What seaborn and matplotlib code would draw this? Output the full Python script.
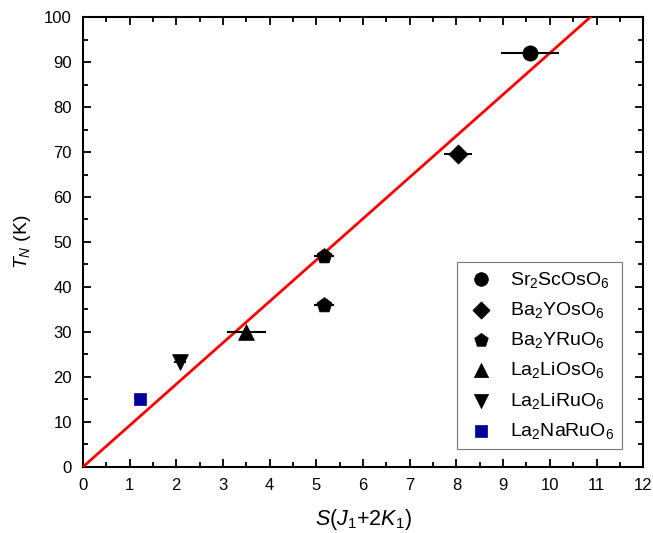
import matplotlib
matplotlib.use("Agg")
import matplotlib.pyplot as plt
import seaborn as sns
import pandas as pd
from matplotlib.ticker import MultipleLocator

sns.set_style("ticks")
plt.rcParams['font.family'] = ['Liberation Sans', 'DejaVu Sans']
plt.rcParams['mathtext.fontset'] = 'custom'
plt.rcParams['mathtext.rm'] = 'Liberation Sans'
plt.rcParams['mathtext.it'] = 'Liberation Sans:italic'
for k in ["text.color", "axes.labelcolor", "xtick.color", "ytick.color", "axes.edgecolor"]:
    plt.rcParams[k] = "black"

labels = [r"Sr$_2$ScOsO$_6$", r"Ba$_2$YOsO$_6$", r"Ba$_2$YRuO$_6$",
          r"La$_2$LiOsO$_6$", r"La$_2$LiRuO$_6$", r"La$_2$NaRuO$_6$"]
markers = ["o", "D", "p", "^", "v", "s"]
colors = ["black", "black", "black", "black", "black", "#000099"]
sizes = [120, 95, 130, 130, 130, 85]

x_vals = [[9.58], [8.04], [5.16, 5.16], [3.5], [2.08], [1.22]]
y_vals = [[92.0], [69.6], [46.8, 36.0], [30.0], [23.4], [15.0]]
x_err = [[0.62], [0.3], [0.22, 0.22], [0.42], [0.12], [0.0]]

fit_slope = 9.2
fit_x = [0.0, 12.0]

fig = plt.figure(figsize=(6.53, 5.33), dpi=100)
ax = fig.add_axes([0.127, 0.124, 0.858, 0.844])

fit_df = pd.DataFrame({"x": fit_x, "y": [fit_slope * v for v in fit_x]})
sns.lineplot(data=fit_df, x="x", y="y", color="#ff0000", lw=2, ax=ax, zorder=3)

for lab, m, c, s, xs, ys, xe in zip(labels, markers, colors, sizes, x_vals, y_vals, x_err):
    df = pd.DataFrame({"x": xs, "y": ys})
    if max(xe) > 0:
        ax.errorbar(xs, ys, xerr=xe, fmt="none", ecolor="black", elinewidth=1.5, capsize=0, zorder=4)
    sns.scatterplot(data=df, x="x", y="y", marker=m, color=c, s=s, edgecolor=c,
                    linewidth=0.5, label=lab, ax=ax, zorder=5)

ax.set_xlim(0, 12)
ax.set_ylim(0, 100)
ax.xaxis.set_major_locator(MultipleLocator(1))
ax.xaxis.set_minor_locator(MultipleLocator(0.5))
ax.yaxis.set_major_locator(MultipleLocator(10))
ax.yaxis.set_minor_locator(MultipleLocator(5))
ax.tick_params(which="both", direction="in", top=True, right=True, width=1.3, labelsize=12, pad=8)
ax.tick_params(which="major", length=6)
ax.tick_params(which="minor", length=3.5)
for sp in ax.spines.values():
    sp.set_linewidth(1.5)
ax.set_xlabel(r"$\mathit{S(J_1{+}2K_1)}$", fontsize=15.5, labelpad=10)
ax.set_ylabel(r"$T_N$ (K)", fontsize=14, labelpad=8)

leg = ax.legend(loc="upper left", bbox_to_anchor=(0.668, 0.456), fontsize=14, frameon=True,
                fancybox=False, edgecolor="#555555", labelspacing=0.53, handletextpad=0.6,
                borderpad=0.4, markerscale=0.9, handlelength=1.7, borderaxespad=0)
leg.get_frame().set_linewidth(0.8)

fig.savefig("out.png", dpi=100)
